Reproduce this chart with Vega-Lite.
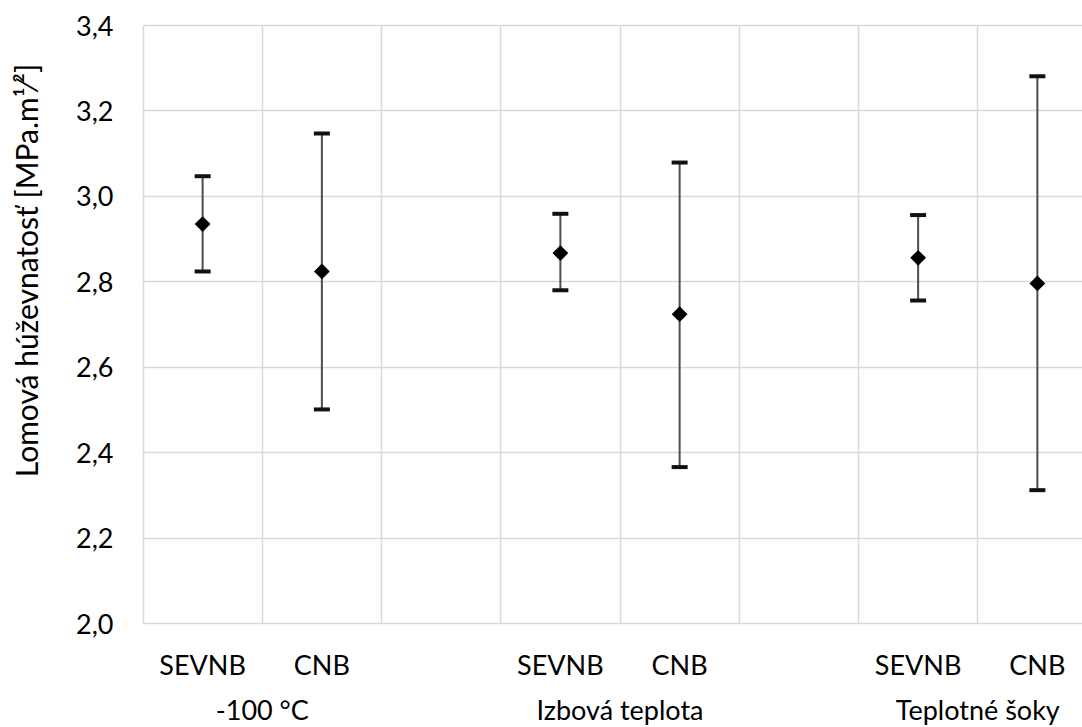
{
  "$schema": "https://vega.github.io/schema/vega-lite/v6.json",
  "width": 939,
  "height": 598,
  "autosize": {"type": "none"},
  "padding": {"left": 143, "top": 25, "right": 0, "bottom": 104},
  "background": "white",
  "config": {"font": "Lato", "view": {"stroke": null}},
  "data": {
    "values": [
      {"group": "-100 °C", "mat": "SEVNB", "cat": "SEVNB|a", "mean": 2.934, "lo": 2.823, "hi": 3.046},
      {"group": "-100 °C", "mat": "CNB", "cat": "CNB|a", "mean": 2.823, "lo": 2.500, "hi": 3.146},
      {"group": "Izbová teplota", "mat": "SEVNB", "cat": "SEVNB|b", "mean": 2.866, "lo": 2.779, "hi": 2.958},
      {"group": "Izbová teplota", "mat": "CNB", "cat": "CNB|b", "mean": 2.723, "lo": 2.365, "hi": 3.078},
      {"group": "Teplotné šoky", "mat": "SEVNB", "cat": "SEVNB|c", "mean": 2.855, "lo": 2.755, "hi": 2.955},
      {"group": "Teplotné šoky", "mat": "CNB", "cat": "CNB|c", "mean": 2.795, "lo": 2.311, "hi": 3.280}
    ]
  },
  "resolve": {"axis": {"x": "independent"}},
  "layer": [
    {
      "mark": {"type": "rule", "color": "#4d4d4d", "strokeWidth": 2},
      "encoding": {
        "x": {
          "field": "cat", "type": "nominal",
          "scale": {"type": "band", "domain": ["SEVNB|a", "CNB|a", "gap1", "SEVNB|b", "CNB|b", "gap2", "SEVNB|c", "CNB|c"], "range": [0, 954], "paddingInner": 0, "paddingOuter": 0},
          "axis": {
            "orient": "bottom", "title": null, "domain": false, "ticks": false, "grid": false,
            "labelExpr": "indexof(datum.value, 'gap') >= 0 ? '' : split(datum.value, '|')[0]",
            "labelAngle": 0, "labelAlign": "center", "labelBaseline": "alphabetic",
            "labelPadding": 51, "labelFontSize": 27, "labelColor": "#000000",
            "labelOverlap": false, "labelBound": false, "labelFlush": false
          }
        },
        "y": {
          "field": "lo", "type": "quantitative",
          "scale": {"domain": [2.0, 3.4], "nice": false, "zero": false},
          "axis": {
            "title": "Lomová húževnatosť [MPa.m¹⁄²]",
            "values": [2.0, 2.2, 2.4, 2.6, 2.8, 3.0, 3.2, 3.4],
            "labelExpr": "replace(format(datum.value, '.1f'), '.', ',')",
            "domain": false, "ticks": false,
            "grid": true, "gridColor": "#d9d9d9", "gridWidth": 1.5,
            "labelFontSize": 27, "labelColor": "#000000", "labelPadding": 30, "labelOffset": 2,
            "titleFontSize": 30, "titleFontWeight": "normal", "titleColor": "#000000",
            "titleAngle": 270, "titleAlign": "center", "titleBaseline": "middle",
            "titleX": -115, "titleY": 245
          }
        },
        "y2": {"field": "hi"}
      }
    },
    {
      "mark": {"type": "tick", "color": "#111111", "size": 16, "thickness": 4, "opacity": 1},
      "encoding": {
        "x": {
          "field": "cat", "type": "nominal",
          "axis": {
            "orient": "bottom", "title": null, "domain": false, "ticks": false,
            "grid": true, "gridColor": "#d9d9d9", "gridWidth": 1.5, "bandPosition": 0,
            "labelExpr": "datum.value == 'CNB|a' ? '-100 °C' : datum.value == 'CNB|b' ? 'Izbová teplota' : datum.value == 'CNB|c' ? 'Teplotné šoky' : ''",
            "labelAngle": 0, "labelAlign": "center", "labelBaseline": "alphabetic", "labelOffset": -59.6,
            "labelPadding": 96, "labelFontSize": 27, "labelColor": "#000000",
            "labelOverlap": false, "labelBound": false, "labelFlush": false
          }
        },
        "y": {"field": "hi", "type": "quantitative"}
      }
    },
    {
      "mark": {"type": "tick", "color": "#111111", "size": 16, "thickness": 4, "opacity": 1},
      "encoding": {
        "x": {"field": "cat", "type": "nominal", "axis": null},
        "y": {"field": "lo", "type": "quantitative"}
      }
    },
    {
      "mark": {"type": "point", "shape": "diamond", "filled": true, "color": "#000000", "size": 250, "opacity": 1},
      "encoding": {
        "x": {"field": "cat", "type": "nominal", "axis": null},
        "y": {"field": "mean", "type": "quantitative"}
      }
    }
  ]
}
